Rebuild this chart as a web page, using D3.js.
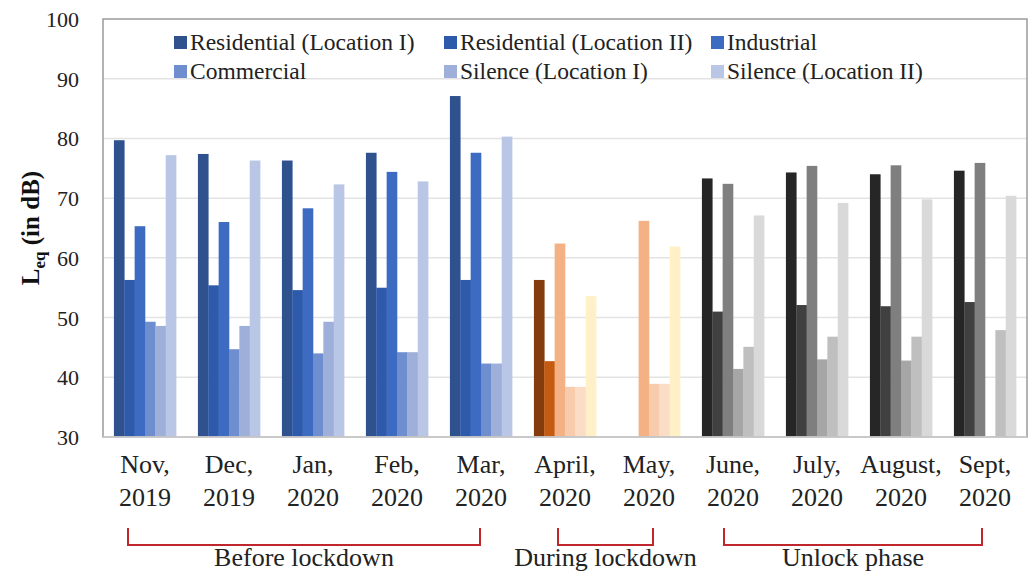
<!DOCTYPE html>
<html>
<head>
<meta charset="utf-8">
<script src="https://cdn.jsdelivr.net/npm/d3@7"></script>
<style>
  html, body { margin: 0; padding: 0; background: #fff; }
  svg text { font-family: "Liberation Serif", "DejaVu Serif", serif; }
</style>
</head>
<body>
<svg id="chart" width="1029" height="572"></svg>
<script>
// months (two-line tick labels)
const months = ['Nov', 'Dec', 'Jan', 'Feb', 'Mar', 'April', 'May', 'June', 'July', 'August', 'Sept'];
const monthLabels = [
    ['Nov,', '2019'], ['Dec,', '2019'], ['Jan,', '2020'], ['Feb,', '2020'], ['Mar,', '2020'],
    ['April,', '2020'], ['May,', '2020'], ['June,', '2020'], ['July,', '2020'], ['August,', '2020'], ['Sept,', '2020']
];
const seriesNames = ['Residential (Location I)', 'Residential (Location II)', 'Industrial',
    'Commercial', 'Silence (Location I)', 'Silence (Location II)'];

// Leq values per series, one per month (null = no bar)
const residential1 = [79.7, 77.4, 76.3, 77.6, 87.1, 56.3, null, 73.3, 74.3, 74.0, 74.6];
const residential2 = [56.3, 55.4, 54.6, 55.0, 56.3, 42.7, null, 51.0, 52.1, 51.9, 52.6];
const industrial   = [65.3, 66.0, 68.3, 74.4, 77.6, 62.4, 66.2, 72.4, 75.4, 75.5, 75.9];
const commercial   = [49.3, 44.7, 44.0, 44.2, 42.3, 38.4, 38.9, 41.4, 43.0, 42.8, null];
const silence1     = [48.6, 48.6, 49.3, 44.2, 42.3, 38.4, 38.9, 45.1, 46.8, 46.8, 47.9];
const silence2     = [77.2, 76.3, 72.3, 72.8, 80.3, 53.6, 61.9, 67.1, 69.2, 69.8, 70.4];
const seriesValues = [residential1, residential2, industrial, commercial, silence1, silence2];

const yTicks = [30, 40, 50, 60, 70, 80, 90, 100];

// phase of each month and its colour ramp
const monthPhase = ['before', 'before', 'before', 'before', 'before', 'during', 'during', 'unlock', 'unlock', 'unlock', 'unlock'];
const phaseColors = {
    before: ['#2f528f', '#2e5aac', '#3d6bc2', '#6f8ecf', '#9eb0d9', '#b9c6e5'],
    during: ['#843c0c', '#c55a11', '#f4b183', '#f8cbad', '#fbdcc6', '#fff0c8'],
    unlock: ['#262626', '#404040', '#7f7f7f', '#a6a6a6', '#bfbfbf', '#d9d9d9']
};
const phases = [
    { label: 'Before lockdown', from: 'Nov', to: 'Mar', dl: -17, dr: -1 },
    { label: 'During lockdown', from: 'April', to: 'May', dl: -7, dr: 4 },
    { label: 'Unlock phase', from: 'June', to: 'Sept', dl: -9, dr: -3 }
];

const FONT = '"Liberation Serif", "DejaVu Serif", serif';
const margin = { top: 19, right: 2, bottom: 135, left: 103 };
const width = 1029, height = 572;
const plotW = width - margin.left - margin.right;
const plotH = height - margin.top - margin.bottom;

const svg = d3.select('#chart');
const g = svg.append('g').attr('transform', `translate(${margin.left},${margin.top})`);

const x0 = d3.scaleBand().domain(months).range([0, plotW]).paddingInner(0.26).paddingOuter(0.13);
const x1 = d3.scaleBand().domain(d3.range(seriesNames.length)).range([0, x0.bandwidth()]);
const y = d3.scaleLinear().domain([30, 100]).range([plotH, 0]);

// gridlines
g.selectAll('.grid')
    .data(yTicks.filter(d => d > 30 && d < 100))
    .join('line')
    .attr('class', 'grid')
    .attr('x1', 0).attr('x2', plotW)
    .attr('y1', d => y(d)).attr('y2', d => y(d))
    .attr('stroke', '#e3e3e3')
    .attr('stroke-width', 1.5);

// bars
const groups = g.selectAll('.month')
    .data(months)
    .join('g')
    .attr('class', 'month')
    .attr('transform', d => `translate(${x0(d)},0)`);

groups.selectAll('rect')
    .data((m, mi) => seriesValues.map((vals, si) => ({ si, v: vals[mi], phase: monthPhase[mi] }))
        .filter(d => d.v != null))
    .join('rect')
    .attr('x', d => x1(d.si))
    .attr('width', x1.bandwidth() + 0.3)
    .attr('y', d => y(d.v))
    .attr('height', d => y(30) - y(d.v))
    .attr('fill', d => phaseColors[d.phase][d.si]);

// plot frame
g.append('rect')
    .attr('x', 0).attr('y', 0)
    .attr('width', plotW).attr('height', plotH)
    .attr('fill', 'none')
    .attr('stroke', '#9a9a9a')
    .attr('stroke-width', 1.5);
g.append('line')
    .attr('x1', 0).attr('x2', plotW)
    .attr('y1', plotH).attr('y2', plotH)
    .attr('stroke', '#d0d0d0')
    .attr('stroke-width', 1.5);

// y axis labels
const yAxis = g.append('g')
    .attr('transform', 'translate(-21,0)')
    .call(d3.axisLeft(y).tickValues(yTicks).tickSize(0).tickFormat(d3.format('d')));
yAxis.select('.domain').remove();
yAxis.attr('font-family', FONT);
yAxis.selectAll('text')
    .attr('font-family', FONT)
    .attr('font-size', 22)
    .attr('fill', '#222')
    .attr('dy', '0.34em');

// y title
const yTitle = svg.append('text')
    .attr('transform', `translate(39,${margin.top + plotH / 2}) rotate(-90)`)
    .attr('text-anchor', 'middle')
    .attr('font-family', FONT)
    .attr('font-size', 25)
    .attr('font-weight', 'bold')
    .attr('fill', '#111');
yTitle.append('tspan').text('L');
yTitle.append('tspan').attr('font-size', 17).attr('dy', 6).text('eq');
yTitle.append('tspan').attr('dy', -6).text(' (in dB)');

// x labels
const xLab = g.append('g').attr('transform', `translate(0,${plotH})`)
    .selectAll('text')
    .data(months)
    .join('text')
    .attr('text-anchor', 'middle')
    .attr('font-family', FONT)
    .attr('font-size', 26)
    .attr('fill', '#222');
xLab.append('tspan')
    .attr('x', d => x0(d) + x0.bandwidth() / 2)
    .attr('y', 36)
    .text((d, i) => monthLabels[i][0]);
xLab.append('tspan')
    .attr('x', d => x0(d) + x0.bandwidth() / 2)
    .attr('y', 69)
    .text((d, i) => monthLabels[i][1]);

// phase brackets
const cx = m => x0(m) + x0.bandwidth() / 2;
const brackets = g.append('g').attr('transform', `translate(0,${plotH})`);
phases.forEach(p => {
    const xl = cx(p.from) + p.dl, xr = cx(p.to) + p.dr;
    brackets.append('path')
        .attr('d', `M${xl},91 V108 H${xr} V91`)
        .attr('fill', 'none')
        .attr('stroke', '#c0272d')
        .attr('stroke-width', 2);
    brackets.append('text')
        .attr('x', (xl + xr) / 2)
        .attr('y', 129)
        .attr('text-anchor', 'middle')
        .attr('font-family', FONT)
        .attr('font-size', 26)
        .attr('fill', '#222')
        .text(p.label);
});

// legend
const legendCols = [71, 341, 608];
const legendRows = [23, 52];
const legend = g.append('g');
seriesNames.forEach((name, i) => {
    const lx = legendCols[i % 3], ly = legendRows[Math.floor(i / 3)];
    legend.append('rect')
        .attr('x', lx).attr('y', ly - 6)
        .attr('width', 13).attr('height', 13)
        .attr('fill', phaseColors.before[i]);
    legend.append('text')
        .attr('x', lx + 16).attr('y', ly)
        .attr('dy', '0.35em')
        .attr('font-family', FONT)
        .attr('font-size', 23.5)
        .attr('fill', '#222')
        .text(name);
});
</script>
</body>
</html>
